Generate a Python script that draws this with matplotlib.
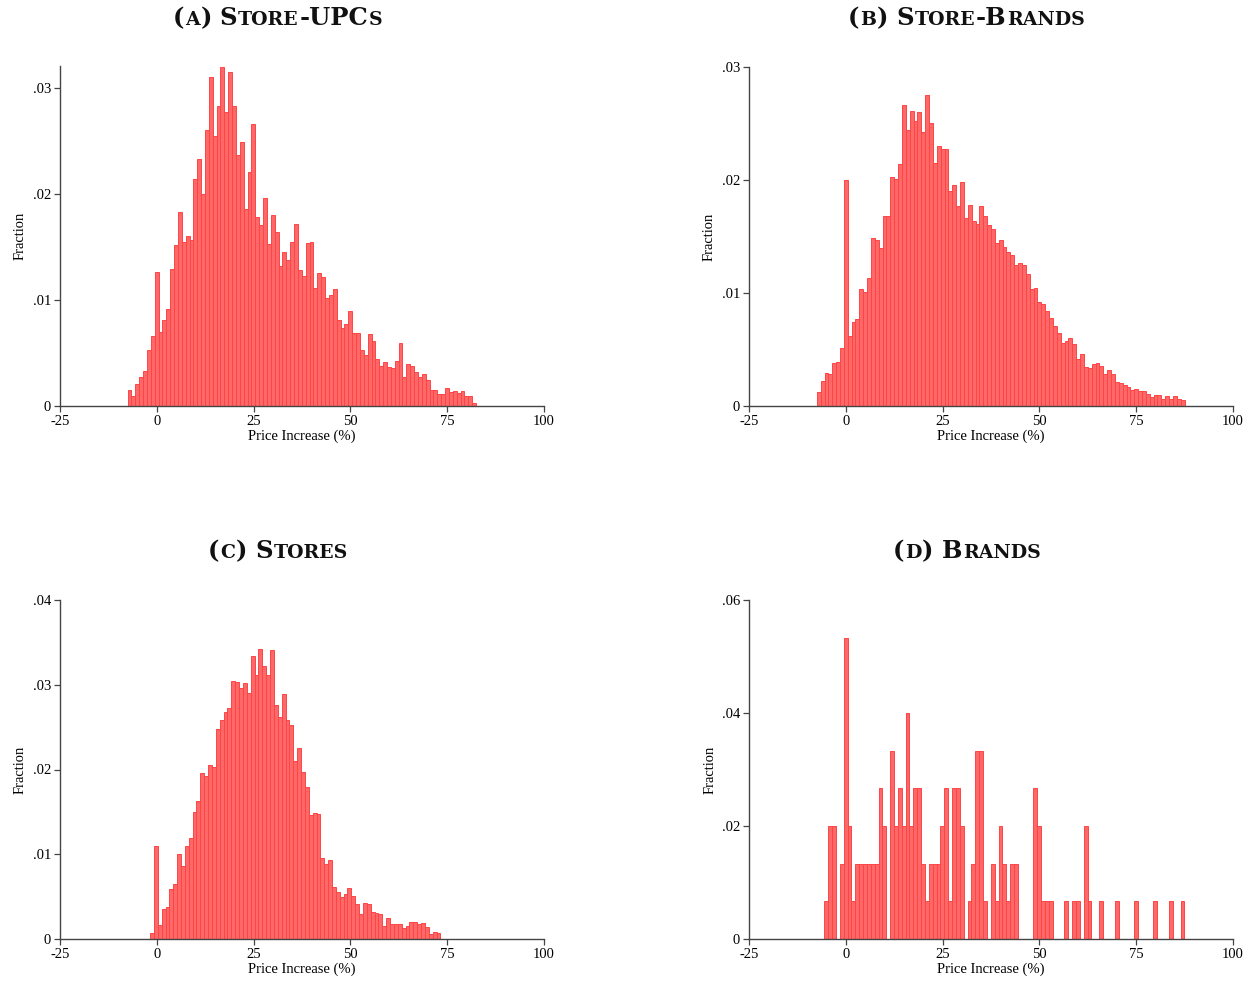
import numpy as np
import matplotlib
matplotlib.use("Agg")
import matplotlib.pyplot as plt

# ---------------- data (fraction per bin, bin width = 1 percentage point) ----------------
a_start = -7.55
a_vals = [0.00147, 0.00091, 0.00204, 0.0027, 0.00335, 0.00533, 0.00665, 0.01266, 0.00696, 0.00815,
          0.00918, 0.01298, 0.0152, 0.01834, 0.01549, 0.01602, 0.0157, 0.02141, 0.02329, 0.02003,
          0.02602, 0.0311, 0.02549, 0.02837, 0.032, 0.0278, 0.0315, 0.02837, 0.0237, 0.02495,
          0.01859, 0.02207, 0.02658, 0.01784, 0.01708, 0.01962, 0.01527, 0.01802, 0.01643, 0.01323,
          0.01451, 0.01379, 0.01549, 0.01715, 0.01285, 0.01229, 0.01539, 0.01549, 0.01116, 0.01257,
          0.01219, 0.01022, 0.0105, 0.01107, 0.00815, 0.0074, 0.00777, 0.009, 0.00687, 0.00693,
          0.00524, 0.00486, 0.00677, 0.00618, 0.00448, 0.00373, 0.0042, 0.00367, 0.00357, 0.00429,
          0.00596, 0.00273, 0.00392, 0.00373, 0.00323, 0.00273, 0.00304, 0.00241, 0.00154, 0.00154,
          0.00116, 0.00116, 0.00172, 0.00129, 0.00138, 0.00119, 0.00144, 0.00091, 0.00091, 0.00025]

b_start = -7.5
b_vals = [0.00121, 0.00221, 0.00289, 0.0028, 0.00378, 0.00392, 0.0051, 0.02, 0.00617, 0.0074,
          0.00767, 0.01032, 0.01006, 0.0113, 0.01484, 0.01472, 0.01395, 0.01681, 0.01681, 0.02024,
          0.02009, 0.02139, 0.02664, 0.02442, 0.02611, 0.02522, 0.02599, 0.02422, 0.02752, 0.02504,
          0.02147, 0.023, 0.02274, 0.02271, 0.01903, 0.01956, 0.01767, 0.0198, 0.01664, 0.01776,
          0.01634, 0.01611, 0.01767, 0.01681, 0.01602, 0.01566, 0.01442, 0.01466, 0.01407, 0.01363,
          0.01333, 0.01245, 0.01265, 0.01248, 0.01168, 0.01032, 0.01041, 0.0092, 0.009, 0.00844,
          0.00779, 0.00708, 0.00643, 0.00555, 0.00575, 0.00599, 0.00546, 0.00413, 0.00463, 0.00348,
          0.00339, 0.00375, 0.00383, 0.00357, 0.00286, 0.00316, 0.0028, 0.00215, 0.00206, 0.00183,
          0.00165, 0.00142, 0.00153, 0.0013, 0.0013, 0.00109, 0.00083, 0.00094, 0.00094, 0.00062,
          0.00086, 0.00059, 0.00091, 0.00065, 0.0005]

c_start = -1.75
c_vals = [0.00067, 0.01093, 0.00161, 0.0035, 0.00374, 0.00586, 0.00645, 0.00999, 0.00857, 0.01093,
          0.01188, 0.01495, 0.01624, 0.01955, 0.01923, 0.02057, 0.0203, 0.02474, 0.0258, 0.02678,
          0.02722, 0.0304, 0.03028, 0.02966, 0.03017, 0.02899, 0.03339, 0.03119, 0.03418, 0.03221,
          0.03119, 0.03406, 0.02757, 0.02616, 0.02887, 0.0258, 0.02529, 0.02096, 0.0225, 0.01967,
          0.01793, 0.01463, 0.01483, 0.01475, 0.00952, 0.00881, 0.00928, 0.0061, 0.00551, 0.00492,
          0.00527, 0.00598, 0.00503, 0.00409, 0.00291, 0.00421, 0.00409, 0.00315, 0.00303, 0.00291,
          0.00153, 0.00244, 0.00173, 0.00173, 0.00173, 0.00126, 0.00149, 0.00197, 0.00197, 0.00173,
          0.00185, 0.00138, 0.00055, 0.00079, 0.00067]

d_start = -5.55
d_counts = [1, 3, 3, 0, 2, 8, 3, 1, 2, 2, 2, 2, 2, 2, 4, 3, 0, 5, 3, 4, 3, 6, 3, 4, 4, 2, 1, 2, 2, 2,
            3, 4, 1, 4, 4, 3, 0, 1, 2, 5, 5, 1, 0, 2, 1, 3, 2,
            1, 2, 2, 0, 0, 0, 0, 4, 3, 1, 1, 1, 0, 0, 0, 1, 0, 1, 1, 0, 3, 1, 0, 0, 1, 0, 0, 0,
            1, 0, 0, 0, 0, 1, 0, 0, 0, 0, 1, 0, 0, 0, 1, 0, 0, 1]
d_total = 150
d_vals = [c / d_total for c in d_counts]

xticks = [-25, 0, 25, 50, 75, 100]
xticklabels = ["-25", "0", "25", "50", "75", "100"]

panels = [
    dict(vals=a_vals, start=a_start, yticks=[0, .01, .02, .03], ylabels=["0", ".01", ".02", ".03"], ytop=0.0321,
         title=[("(", "b"), ("A", "s"), (")", "b"), None, ("S", "b"), ("TORE", "s"), ("-UPC", "b"), ("S", "s")]),
    dict(vals=b_vals, start=b_start, yticks=[0, .01, .02, .03], ylabels=["0", ".01", ".02", ".03"], ytop=0.03,
         title=[("(", "b"), ("B", "s"), (")", "b"), None, ("S", "b"), ("TORE", "s"), ("-B", "b"), ("RANDS", "s")]),
    dict(vals=c_vals, start=c_start, yticks=[0, .01, .02, .03, .04], ylabels=["0", ".01", ".02", ".03", ".04"], ytop=0.04,
         title=[("(", "b"), ("C", "s"), (")", "b"), None, ("S", "b"), ("TORES", "s")]),
    dict(vals=d_vals, start=d_start, yticks=[0, .02, .04, .06], ylabels=["0", ".02", ".04", ".06"], ytop=0.06,
         title=[("(", "b"), ("D", "s"), (")", "b"), None, ("B", "b"), ("RANDS", "s")]),
]

# ---------------- layout ----------------
W, H = 1257, 982
fig = plt.figure(figsize=(W / 100, H / 100), dpi=100)
serif = ["Liberation Serif", "DejaVu Serif"]
title_font = ["DejaVu Serif"]

# pixel boxes: (left, right, bottom)
boxes = [(60, 544, 406), (749, 1233, 406), (60, 544, 939), (749, 1233, 939)]
axis_tops = [66, 67, 600, 600]
title_centers = [(278, 18), (967, 18), (278, 551), (967, 551)]

FILL = "#ff6868"
EDGE = "#ff4444"
SPINE = "#444444"

renderer = fig.canvas.get_renderer()


def draw_title(xc, yc, parts, big=17.5, small=13.6, gap=7):
    items = []
    for p in parts:
        if p is None:
            items.append(None)
            continue
        s, kind = p
        t = fig.text(0, 1 - yc / H, s, fontsize=big if kind == "b" else small, fontweight="bold",
                     family=title_font, ha="left", va="baseline", color="#111111")
        items.append(t)
    widths = [gap if t is None else t.get_window_extent(renderer).width + 0.8 for t in items]
    x = xc - sum(widths) / 2
    for t, w in zip(items, widths):
        if t is not None:
            t.set_x(x / W)
        x += w


for p, (l, r, b), top, (tx, ty) in zip(panels, boxes, axis_tops, title_centers):
    ax = fig.add_axes([l / W, 1 - b / H, (r - l) / W, (b - top) / H])
    n = len(p["vals"])
    lefts = p["start"] + np.arange(n) * 1.0
    ax.bar(lefts, p["vals"], width=1.0, align="edge", color=FILL, edgecolor=EDGE, linewidth=0.7)
    ax.set_xlim(-25, 100)
    ax.set_ylim(0, p["ytop"])
    for s in ["top", "right"]:
        ax.spines[s].set_visible(False)
    for s in ["left", "bottom"]:
        ax.spines[s].set_color(SPINE)
        ax.spines[s].set_linewidth(1.0)
    ax.set_xticks(xticks)
    ax.set_xticklabels(xticklabels, family=serif, fontsize=10.5)
    ax.set_yticks(p["yticks"])
    ax.set_yticklabels(p["ylabels"], family=serif, fontsize=10.5)
    ax.tick_params(axis="both", direction="out", length=4.5, width=0.9, color=SPINE, pad=2)
    ax.set_xlabel("Price Increase (%)", family=serif, fontsize=10.5, labelpad=1)
    ax.set_ylabel("Fraction", family=serif, fontsize=10.5, labelpad=4)
    draw_title(tx, ty + 7, p["title"])

fig.savefig("out.png", dpi=100)
